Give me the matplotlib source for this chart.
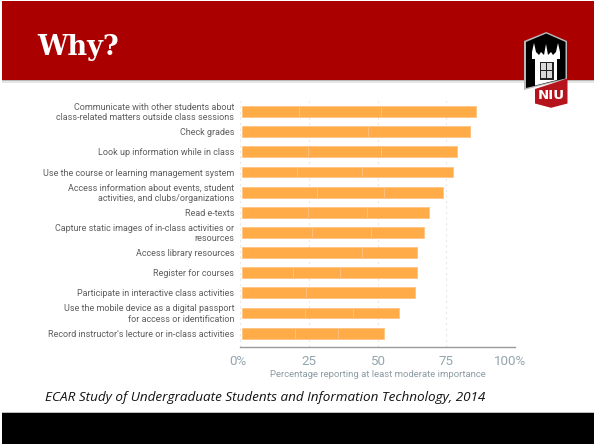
import matplotlib
matplotlib.use("Agg")
import matplotlib.pyplot as plt
from matplotlib.patches import Polygon, Rectangle
from matplotlib.transforms import ScaledTranslation

# survey items, top to bottom
items = [
    "Communicate with other students about\nclass-related matters outside class sessions",
    "Check grades",
    "Look up information while in class",
    "Use the course or learning management system",
    "Access information about events, student\nactivities, and clubs/organizations",
    "Read e-texts",
    "Capture static images of in-class activities or\nresources",
    "Access library resources",
    "Register for courses",
    "Participate in interactive class activities",
    "Use the mobile device as a digital passport\nfor access or identification",
    "Record instructor's lecture or in-class activities",
]
# the three importance levels stacked in each bar
moderate = [20.9, 46.1, 23.9, 19.9, 27.4, 24.2, 25.7, 43.9, 18.7, 23.4, 23.1, 19.4]
very = [29.6, 37.0, 26.6, 24.0, 24.2, 21.5, 21.2, 20.0, 17.2, 39.5, 17.5, 15.6]
extreme = [34.7, 0.0, 28.0, 32.9, 21.7, 22.5, 19.4, 0.0, 27.9, 0.0, 16.7, 16.6]
ticks = [0, 25, 50, 75, 100]
tick_labels = ["0%", "25", "50", "75", "100%"]

BAR_COLOR = "#ffab48"
EDGE_COLOR = "#ffc080"
RED = "#aa0000"
W, H = 594, 444

fig = plt.figure(figsize=(W / 100, H / 100), dpi=100, facecolor="white")

# slide furniture lives on a full-figure axes in pixel units
bg = fig.add_axes([0, 0, 1, 1])
bg.set_xlim(0, W)
bg.set_ylim(H, 0)
bg.axis("off")
bg.add_patch(Rectangle((2, 1), W - 2, 79, color=RED, lw=0))
bg.add_patch(Rectangle((2, 80), W - 2, 1.5, color="#b8b8b8", lw=0))
bg.add_patch(Rectangle((2, 81.5), W - 2, 1.5, color="#e6e6e6", lw=0))
bg.add_patch(Rectangle((2, 413), W - 2, 31, color="black", lw=0))
bg.add_patch(Rectangle((2, 411.5), W - 2, 1.5, color="#bdbdbd", lw=0))
bg.text(37.5, 55, "Why?", family="DejaVu Serif", weight="bold", size=19.5,
        color="white", ha="left", va="baseline")
bg.text(45, 397, "ECAR Study of Undergraduate Students and Information Technology, 2014",
        family="Open Sans", style="italic", size=9.7, color="#111111", ha="left", va="center")

# chart axes
left, right, top, bottom = 240.3, 514.7, 101, 347
ax = fig.add_axes([left / W, 1 - bottom / H, (right - left) / W, (bottom - top) / H])
ax.patch.set_alpha(0)
ypos = list(range(len(items)))
ax.set_xlim(0, 100)
ax.set_ylim(11.69, -0.53)

starts = [0.6] * len(items)
for seg in (moderate, very, extreme):
    ax.barh(ypos, seg, left=starts, height=0.54, color=BAR_COLOR,
            edgecolor=EDGE_COLOR, linewidth=0.5, zorder=3)
    starts = [s + v for s, v in zip(starts, seg)]

ax.set_xticks(ticks)
ax.set_xticklabels(tick_labels, family="Roboto", size=9.6, color="#94a5ad")
ax.tick_params(axis="x", length=0, pad=6)
# the end labels sit a little inside their gridlines
tick_text = ax.get_xticklabels()
tick_text[0].set_transform(tick_text[0].get_transform() + ScaledTranslation(-2 / 72, 0, fig.dpi_scale_trans))
tick_text[4].set_transform(tick_text[4].get_transform() + ScaledTranslation(-3 / 72, 0, fig.dpi_scale_trans))
ax.set_yticks([])
ax.grid(axis="x", color="#e8e8e8", linestyle=(0, (2, 3)), linewidth=0.8, zorder=0)
ax.set_axisbelow(True)
for name in ("top", "left", "right"):
    ax.spines[name].set_visible(False)
ax.spines["bottom"].set_color("#9b9b9b")
ax.spines["bottom"].set_linewidth(1.0)
ax.set_xlabel("Percentage reporting at least moderate importance", family="Roboto",
              size=6.8, color="#8b9ba3", labelpad=1.5)

for y, label in zip(ypos, items):
    ax.annotate(label, (0, y), xytext=(-4.5, -0.7), textcoords="offset points",
                xycoords=("data", "data"), ha="right", va="center", family="Roboto",
                size=6.5, color="#5e5e5e", linespacing=1.2, annotation_clip=False)

# NIU logo on top of everything
logo = fig.add_axes([0, 0, 1, 1], zorder=5)
logo.set_xlim(0, W)
logo.set_ylim(H, 0)
logo.axis("off")
logo.add_patch(Polygon([(524, 41), (546.3, 32), (567, 41), (567, 79), (524, 90)],
                       color="#b9b9b9", lw=0))
logo.add_patch(Polygon([(526, 42), (546.3, 33.5), (565.5, 42), (565.5, 78.5), (526, 88)],
                       color="black", lw=0))
logo.add_patch(Polygon([(535, 89), (567.5, 78.5), (567.5, 103.5), (551, 107.8), (535, 103.5)],
                       color="#b5141c", lw=0))
# battlements and building front
logo.add_patch(Polygon([(532, 59), (532, 52), (534, 43), (536, 52), (539, 55), (541, 52),
                        (544, 55), (546, 44), (548, 55), (551, 52), (553, 55), (556, 52),
                        (558, 43), (560, 52), (560, 59)], color="white", lw=0))
logo.add_patch(Polygon([(535, 59), (557, 59), (557, 80), (535, 85.5)], color="white", lw=0))
logo.add_patch(Rectangle((539.5, 62), 14, 18, color="#222222", lw=0))
for gx in (540.5, 547):
    for gy in (63.5, 71.5):
        logo.add_patch(Rectangle((gx, gy), 5.2, 6.5, color="#d8d8d8", lw=0))
logo.text(551, 95.5, "NIU", family="DejaVu Sans", weight="bold", size=9.6, color="white",
          ha="center", va="center")

fig.savefig("out.png", dpi=100)
